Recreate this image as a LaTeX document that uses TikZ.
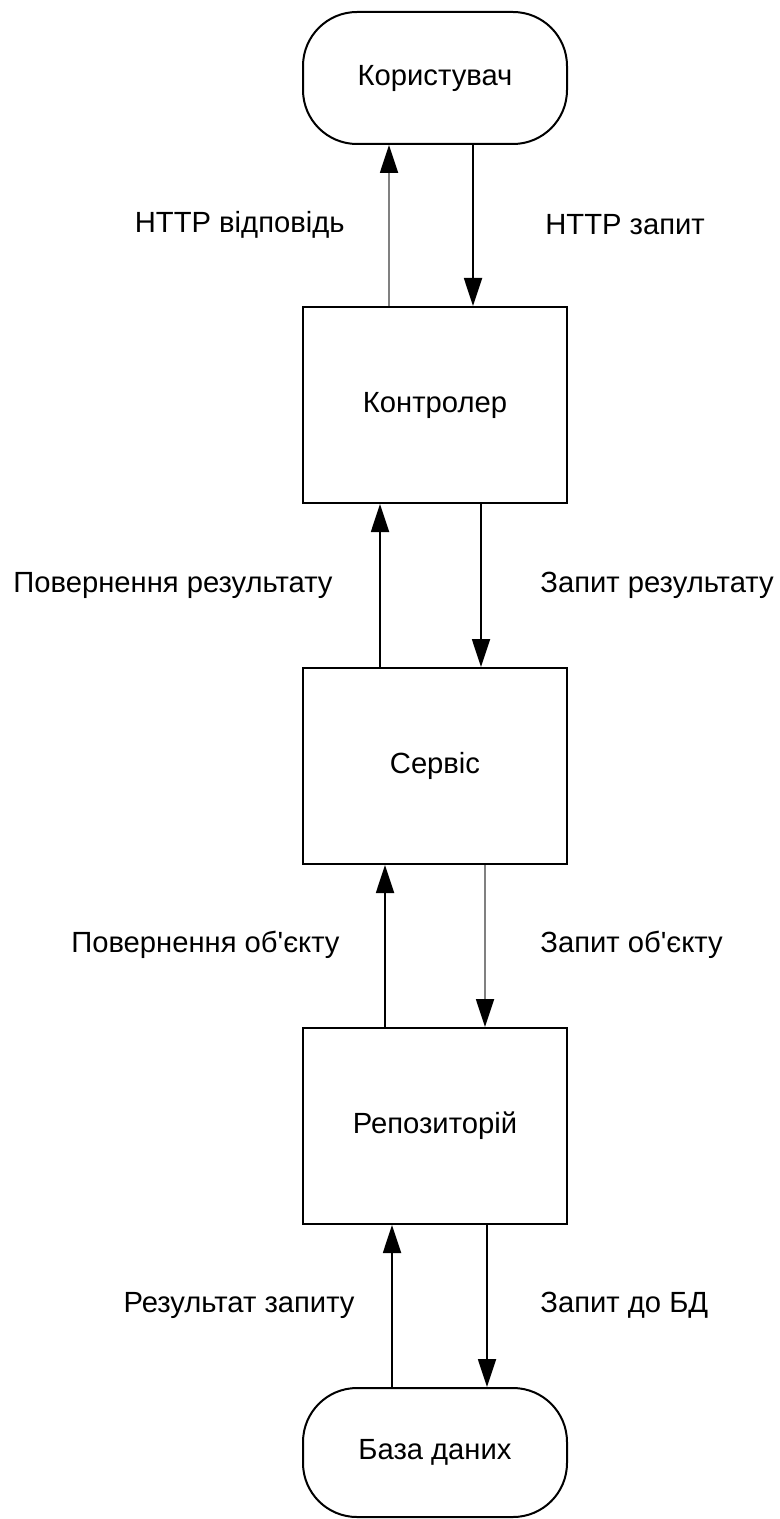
\documentclass[tikz,border=0pt]{standalone}
\usepackage{fontspec}
\setmainfont{Liberation Sans}
\usetikzlibrary{arrows.meta,positioning}
\tikzset{>=latex,
  terminal/.style={draw,line width=1pt,rounded corners=27pt,minimum width=132pt,inner sep=0pt},
  block/.style={draw,line width=1pt,minimum width=132pt,minimum height=98pt,inner sep=0pt},
  flow/.style={line width=0.9pt,-{Triangle[length=14pt,width=9pt]}},
  faint/.style={flow,draw=black!50,-{Triangle[length=14pt,width=9pt,color=black]}},
  lbl/.style={inner sep=0pt}}

\begin{document}
\begin{tikzpicture}[x=0.5pt,y=-0.5pt,font=\fontsize{14.6}{17}\selectfont]
    \useasboundingbox (0,0) rectangle (780,1519);

    \node [terminal,minimum height=66pt] (user) at (435,78) {Користувач};
    \node [block] (ctrl) at (435,405) {Контролер};
    \node [block] (serv) at (435,766) {Сервіс};
    \node [block] (repo) at (435,1126) {Репозиторій};
    \node [terminal,minimum height=64.5pt] (db) at (435,1452.5) {База даних};

    \draw [faint] ([xshift=-23pt]ctrl.north) -- ([xshift=-23pt]user.south);
    \draw [flow] ([xshift=19pt]user.south) -- ([xshift=19pt]ctrl.north);
    \draw [flow] ([xshift=-27.5pt]serv.north) -- ([xshift=-27.5pt]ctrl.south);
    \draw [flow] ([xshift=23pt]ctrl.south) -- ([xshift=23pt]serv.north);
    \draw [flow] ([xshift=-25pt]repo.north) -- ([xshift=-25pt]serv.south);
    \draw [faint] ([xshift=25pt]serv.south) -- ([xshift=25pt]repo.north);
    \draw [flow] ([xshift=-21.5pt]db.north) -- ([xshift=-21.5pt]repo.south);
    \draw [flow] ([xshift=26pt]repo.south) -- ([xshift=26pt]db.north);

    \node [lbl,anchor=east] (resp) at (345,225) {HTTP відповідь};
    \node [lbl,anchor=west] (req) at (545,225) {HTTP запит};
    \node [lbl,anchor=east] (ret) at (333,585) {Повернення результату};
    \node [lbl,anchor=west] (ask) at (540,585) {Запит результату};
    \node [lbl,anchor=east] (retobj) at (340,945) {Повернення об\textquotesingle єкту};
    \node [lbl,anchor=west] (askobj) at (540,945) {Запит об\textquotesingle єкту};
    \node [lbl,anchor=east] (res) at (355,1305) {Результат запиту};
    \node [lbl,anchor=west] (query) at (540,1305) {Запит до БД};
\end{tikzpicture}
\end{document}
